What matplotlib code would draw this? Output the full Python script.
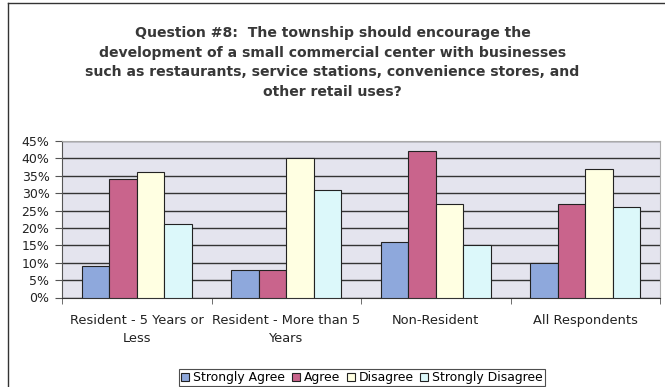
import matplotlib
matplotlib.use("Agg")
import matplotlib.pyplot as plt
from matplotlib.lines import Line2D
import numpy as np

categories = ["Resident - 5 Years or\nLess", "Resident - More than 5\nYears", "Non-Resident", "All Respondents"]
series_names = ["Strongly Agree", "Agree", "Disagree", "Strongly Disagree"]
strongly_agree = [9, 8, 16, 10]
agree = [34, 8, 42, 27]
disagree = [36, 40, 27, 37]
strongly_disagree = [21, 31, 15, 26]
yticks = [0, 5, 10, 15, 20, 25, 30, 35, 40, 45]
title = ("Question #8:  The township should encourage the\n"
         "development of a small commercial center with businesses\n"
         "such as restaurants, service stations, convenience stores, and\n"
         "other retail uses?")

colors = ["#8ea8dc", "#c9648c", "#ffffe2", "#dcf8fa"]

plt.rcParams['font.family'] = ['DejaVu Sans']
W, H = 665, 387
fig = plt.figure(figsize=(6.65, 3.87), dpi=100)
fig.patch.set_facecolor("white")

left, right, top, bottom = 62, 660, 141, 297.5
ax = fig.add_axes([left/W, 1-bottom/H, (right-left)/W, (bottom-top)/H])
ax.set_facecolor("#e4e4ee")

x = np.arange(len(categories))
w = 0.184
data = [strongly_agree, agree, disagree, strongly_disagree]
for i, (vals, c, name) in enumerate(zip(data, colors, series_names)):
    ax.bar(x + (i - 1.5) * w, vals, width=w, color=c, edgecolor="#222222",
           linewidth=0.8, label=name, zorder=3)

ax.set_ylim(0, 45)
ax.set_xlim(-0.5, len(categories) - 0.5)
ax.set_yticks(yticks)
ax.set_yticklabels([f"{v}%" for v in yticks], fontsize=9, color="#222222")
ax.yaxis.grid(True, color="#333333", linewidth=1.0, zorder=1)
ax.set_axisbelow(True)
ax.set_xticks(x)
ax.set_xticklabels(categories, fontsize=9.4, color="#222222", linespacing=1.45)
ax.tick_params(axis="x", length=0, pad=12)
ax.set_xticks(np.arange(len(categories) + 1) - 0.5, minor=True)
ax.tick_params(axis="x", which="minor", length=4, color="#555555")
ax.tick_params(axis="y", length=5, color="#555555", pad=4)
for s in ["top", "right"]:
    ax.spines[s].set_color("#aaaaaa")
    ax.spines[s].set_linewidth(0.8)
ax.spines["left"].set_color("#555555")
ax.spines["bottom"].set_color("#333333")

fig.text(0.5, 1-62.5/H, title, ha="center", va="center", fontsize=10.1,
         fontweight="bold", color="#383838", linespacing=1.5)

leg = fig.legend(loc="center", bbox_to_anchor=(362/W, 1-377.5/H), ncol=4,
                 fontsize=8.9, frameon=True, fancybox=False, edgecolor="#222222",
                 handlelength=0.65, handleheight=0.65, handletextpad=0.3,
                 columnspacing=0.55, borderpad=0.2)
leg.get_frame().set_linewidth(0.8)

# outer chart border (left and top edges visible in the scan)
fig.add_artist(Line2D([8/W, 8/W], [0, 1-3/H], transform=fig.transFigure,
                      color="#333333", linewidth=1.0))
fig.add_artist(Line2D([8/W, 1], [1-3/H, 1-3/H], transform=fig.transFigure,
                      color="#333333", linewidth=1.0))

fig.savefig("out.png", dpi=100)
